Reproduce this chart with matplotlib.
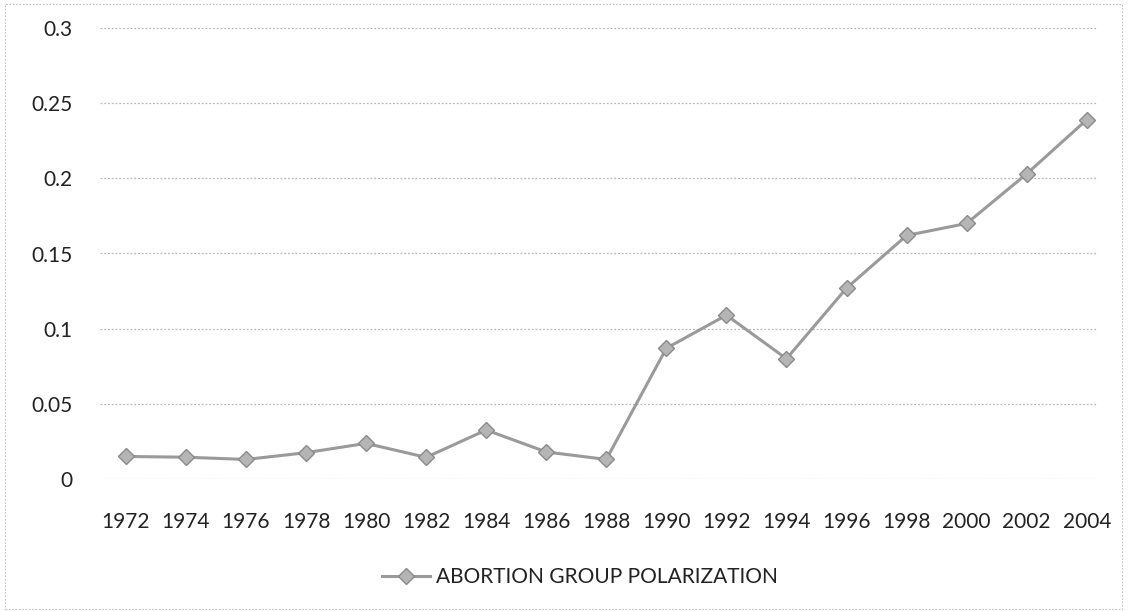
import matplotlib
matplotlib.use("Agg")
import matplotlib.pyplot as plt
from matplotlib.patches import Rectangle

years = ["1972", "1974", "1976", "1978", "1980", "1982", "1984", "1986", "1988",
         "1990", "1992", "1994", "1996", "1998", "2000", "2002", "2004"]
polarization = [0.015, 0.0145, 0.013, 0.0175, 0.0237, 0.0144, 0.0326, 0.018, 0.013,
                0.087, 0.109, 0.080, 0.127, 0.162, 0.170, 0.203, 0.239]
yticks = [0, 0.05, 0.1, 0.15, 0.2, 0.25, 0.3]
ytick_labels = ["0", "0.05", "0.1", "0.15", "0.2", "0.25", "0.3"]
series_name = "ABORTION GROUP POLARIZATION"

plt.rcParams['font.family'] = ['Lato', 'DejaVu Sans']

W, H = 1145, 611
fig = plt.figure(figsize=(W / 100, H / 100), dpi=100)
left, right, top, bottom = 100, 1097, 28, 479
ax = fig.add_axes([left / W, 1 - bottom / H, (right - left) / W, (bottom - top) / H])

x = list(range(len(years)))
line, = ax.plot(x, polarization, color='#9a9a9a', linewidth=2.2, marker='D',
                markersize=8, markerfacecolor='#b5b5b5', markeredgecolor='#8a8a8a',
                markeredgewidth=1.0, label=series_name, zorder=3)

ax.set_ylim(0, 0.3)
ax.set_xlim(-0.43, 16.17)
ax.set_yticks(yticks)
ax.set_yticklabels(ytick_labels)
ax.set_xticks(x)
ax.set_xticklabels(years)
ax.tick_params(axis='both', length=0, labelsize=15, colors='#222222')
ax.tick_params(axis='y', pad=20)
ax.tick_params(axis='x', pad=24)
for lab in ax.get_yticklabels():
    lab.set_horizontalalignment('right')
ax.grid(axis='y', color='#b8b8b8', linewidth=0.9, linestyle=(0, (1.5, 1.5)))
ax.set_axisbelow(True)
for s in ax.spines.values():
    s.set_visible(False)

fig.legend(handles=[line], labels=[series_name], loc='center',
           bbox_to_anchor=(580 / W, 1 - 577 / H), frameon=False, fontsize=15,
           handlelength=2.3, handletextpad=0.3, labelcolor='#222222')

# Chart area border
fig.add_artist(Rectangle((5 / W, 2 / H), 1117 / W, 605 / H, transform=fig.transFigure,
                         fill=False, edgecolor='#c0c0c0', linewidth=0.8,
                         linestyle=(0, (1.5, 1.5))))

fig.savefig("out.png", dpi=100)
